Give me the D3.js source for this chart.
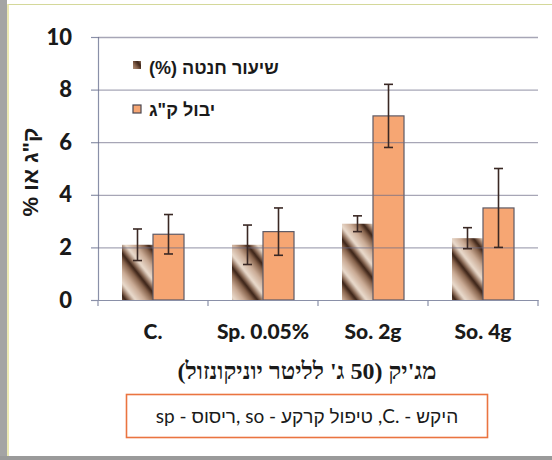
<!DOCTYPE html>
<html><head><meta charset="utf-8">
<script src="https://cdnjs.cloudflare.com/ajax/libs/d3/7.8.5/d3.min.js"></script>
<style>
html,body{margin:0;padding:0;background:#fff;}
svg{display:block;}
</style></head>
<body>
<svg id="c" width="552" height="460"></svg>
<script>
const categories = ["C.", "Sp. 0.05%", "So. 2g", "So. 4g"];
const seriesNames = ["שיעור חנטה (%)", "יבול ק\"ג"];
const fruitSet = [2.1, 2.1, 2.9, 2.35];
const fruitSetErr = [0.6, 0.75, 0.3, 0.4];
const yieldKg = [2.5, 2.6, 7.0, 3.5];
const yieldErr = [0.75, 0.9, 1.2, 1.5];
const yTicks = [0, 2, 4, 6, 8, 10];
const yTitle = "ק\"ג או %";
const xTitle = "מג'יק (50 ג' לליטר יוניקונזול)";
const noteText = "היקש  - .C, טיפול קרקע - so ,ריסוס - sp";

const svg = d3.select("#c");
const defs = svg.append("defs");

// hatched wood-like pattern
const lg = defs.append("linearGradient").attr("id","stripeG").attr("x1","0").attr("x2","1").attr("y1","0").attr("y2","0");
[[0,"#eadbcd"],[0.3,"#c9aa94"],[0.55,"#87634c"],[0.7,"#3a2216"],[0.82,"#8c6c58"],[1,"#eadbcd"]].forEach(s=>lg.append("stop").attr("offset",s[0]).attr("stop-color",s[1]));
const pat = defs.append("pattern").attr("id","hatch").attr("patternUnits","userSpaceOnUse")
  .attr("width",26).attr("height",26).attr("patternTransform","rotate(-38)");
pat.append("rect").attr("width",26).attr("height",26).attr("fill","url(#stripeG)");

// frame
svg.append("rect").attr("x",0).attr("y",0).attr("width",7).attr("height",460).attr("fill","#a4a4a4");
svg.append("rect").attr("x",0).attr("y",456).attr("width",552).attr("height",4).attr("fill","#9a9a9a");
svg.append("line").attr("x1",8).attr("x2",552).attr("y1",4.5).attr("y2",4.5).attr("stroke","#d4d89a").attr("stroke-width",1.2);
svg.append("line").attr("x1",8).attr("x2",8).attr("y1",4).attr("y2",456).attr("stroke","#e4e09a").attr("stroke-width",1.5);

const L = 98, R = 538, T = 37, B = 300;
const y = d3.scaleLinear().domain([0,10]).range([B,T]);
const x = d3.scaleBand().domain(categories).range([L,R]).paddingInner(0).paddingOuter(0);
const xs = d3.scaleBand().domain([0,1]).range([0,x.bandwidth()]).paddingInner(0).paddingOuter(0.774);

const latin = "Lato, 'Liberation Sans', sans-serif";

// y axis
const ya = svg.append("g").attr("transform",`translate(${L},0)`)
  .call(d3.axisLeft(y).tickValues(yTicks).tickSize(7).tickPadding(19).tickFormat(d3.format("d")));
ya.select(".domain").attr("stroke","#8a90a8").attr("stroke-width",1.2);
ya.selectAll(".tick line").attr("stroke","#8a90a8").attr("stroke-width",1.2);
ya.selectAll(".tick text").attr("font-family",latin).attr("font-weight","900").attr("font-size",22).attr("fill","#1a1a1a");

// bars
const g = svg.append("g");
categories.forEach((c,i)=>{
  const gx = x(c);
  g.append("rect").attr("x",gx+xs(0)).attr("y",y(fruitSet[i])).attr("width",xs.bandwidth()).attr("height",y(0)-y(fruitSet[i]))
    .attr("fill","url(#hatch)");
  g.append("rect").attr("x",gx+xs(1)).attr("y",y(yieldKg[i])).attr("width",xs.bandwidth()).attr("height",y(0)-y(yieldKg[i]))
    .attr("fill","#f6a673").attr("stroke","#5e5a66").attr("stroke-width",1.2);
});

// gridlines on top (semi transparent)
const gg = svg.append("g").attr("transform",`translate(${L},0)`)
  .call(d3.axisLeft(y).tickValues(yTicks.filter(d=>d>0)).tickSize(-(R-L)).tickFormat(""));
gg.select(".domain").remove();
gg.selectAll(".tick line").attr("stroke","#6c6a86").attr("stroke-opacity",0.6).attr("stroke-width",1.3);

// error bars
const eg = svg.append("g").attr("stroke","#3a2824").attr("stroke-width",1.6);
function err(cx, v, e){
  eg.append("line").attr("x1",cx).attr("x2",cx).attr("y1",y(v+e)).attr("y2",y(v-e));
  eg.append("line").attr("x1",cx-4.5).attr("x2",cx+4.5).attr("y1",y(v+e)).attr("y2",y(v+e));
  eg.append("line").attr("x1",cx-4.5).attr("x2",cx+4.5).attr("y1",y(v-e)).attr("y2",y(v-e));
}
categories.forEach((c,i)=>{
  err(x(c)+xs(0)+xs.bandwidth()/2, fruitSet[i], fruitSetErr[i]);
  err(x(c)+xs(1)+xs.bandwidth()/2, yieldKg[i], yieldErr[i]);
});

// x axis
const xa = svg.append("g").attr("transform",`translate(0,${B})`)
  .call(d3.axisBottom(x).tickSize(0).tickPadding(24));
xa.select(".domain").attr("stroke","#8a90a8").attr("stroke-width",1.2);
xa.selectAll(".tick text").attr("font-family",latin).attr("font-weight","900").attr("font-size",21).attr("fill","#1a1a1a");
// boundary ticks
const bounds = categories.map(c=>x(c)).concat([x(categories[categories.length-1])+x.bandwidth()]);
svg.append("g").selectAll("line").data(bounds).join("line")
  .attr("x1",d=>d).attr("x2",d=>d).attr("y1",B).attr("y2",B+6).attr("stroke","#8a90a8").attr("stroke-width",1.2);

// legend
const leg = svg.append("g");
leg.append("rect").attr("x",133).attr("y",61).attr("width",8).attr("height",8).attr("fill","url(#hatch)");
leg.append("rect").attr("x",133).attr("y",105).attr("width",8).attr("height",8).attr("fill","#f6a673").attr("stroke","#4a4650").attr("stroke-width",1.2);
function placeLeft(sel, left){
  const bb = sel.node().getBBox();
  sel.attr("x", +sel.attr("x") + (left - bb.x));
}
const lt1 = leg.append("text").attr("x",200).attr("y",74).attr("direction","rtl").attr("text-anchor","middle")
  .attr("font-family","'Liberation Sans', 'DejaVu Sans', sans-serif").attr("font-weight","bold").attr("font-size",18).attr("fill","#1a1a1a").text(seriesNames[0]);
placeLeft(lt1,149);
const lt2 = leg.append("text").attr("x",200).attr("y",116).attr("direction","rtl").attr("text-anchor","middle")
  .attr("font-family","'Liberation Sans', 'DejaVu Sans', sans-serif").attr("font-weight","bold").attr("font-size",18).attr("fill","#1a1a1a").text(seriesNames[1]);
placeLeft(lt2,149);

// y title
svg.append("text").attr("transform","translate(38,172) rotate(-90)").attr("direction","rtl").attr("text-anchor","middle")
  .attr("font-family","'Liberation Sans', 'DejaVu Sans', sans-serif").attr("font-weight","bold").attr("font-size",22).attr("fill","#1a1a1a").text(yTitle);

// x title
svg.append("text").attr("x",307).attr("y",379).attr("direction","rtl").attr("text-anchor","middle")
  .attr("font-family","'Liberation Serif', 'DejaVu Serif', serif").attr("font-weight","bold").attr("font-size",24).attr("fill","#1a1a1a").text(xTitle);

// note box
svg.append("rect").attr("x",126.5).attr("y",394.5).attr("width",361).attr("height",43).attr("fill","#fff").attr("stroke","#ea7440").attr("stroke-width",1.6);
svg.append("text").attr("x",307).attr("y",423).attr("direction","rtl").attr("text-anchor","middle")
  .attr("font-family",latin).attr("font-size",19).attr("fill","#1a1a1a").text(noteText);
</script>
</body></html>
